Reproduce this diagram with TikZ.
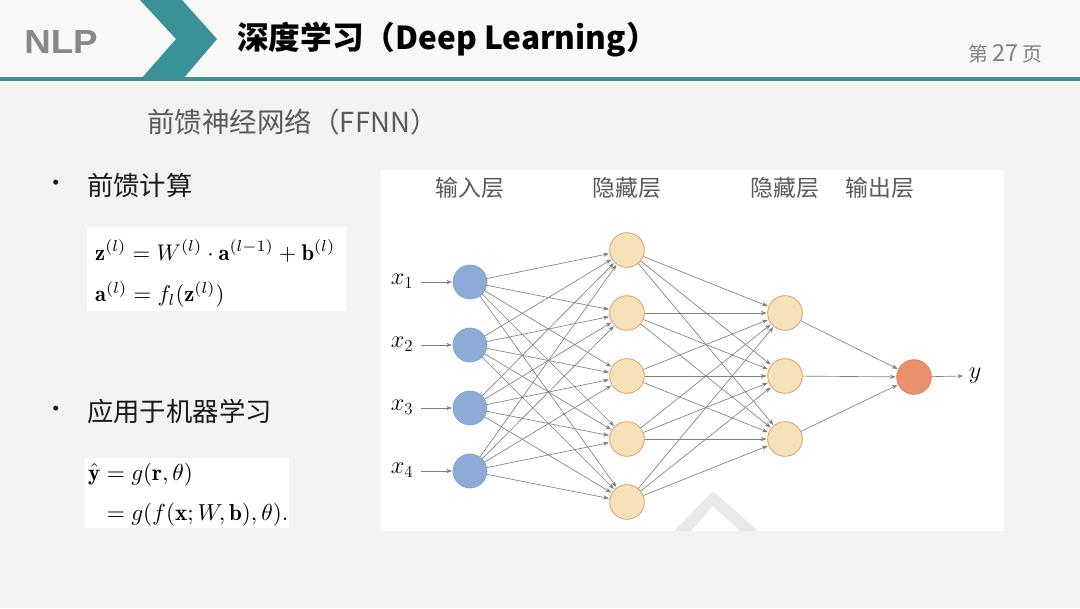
\documentclass[tikz,border=0pt]{standalone}
\usepackage{amsmath}
\usepackage{graphicx}
\usepackage{fontspec}
\usetikzlibrary{arrows.meta}
\newfontfamily\cjk{Noto Sans CJK SC}
\newfontfamily\lsans{Liberation Sans}
\definecolor{teal1}{HTML}{3A9296}
\definecolor{bgtop}{HTML}{F8F8F8}
\definecolor{bgmain}{HTML}{F3F3F3}
\definecolor{inblue}{HTML}{8EAAD6}
\definecolor{inbluedk}{HTML}{7E9CCB}
\definecolor{hidfill}{HTML}{F5E2B8}
\definecolor{hiddraw}{HTML}{E39A72}
\definecolor{outfill}{HTML}{E9916C}
\definecolor{outdraw}{HTML}{D9805C}
\definecolor{edgec}{HTML}{7F7F7F}
\definecolor{txtgray}{HTML}{595959}
\definecolor{wm}{HTML}{E9E9E9}
\tikzset{
  x=0.03cm, y=-0.03cm,
  inp/.style={circle, fill=inblue, draw=inbluedk, line width=0.5pt, minimum size=1.02cm, inner sep=0pt},
  hid/.style={circle, fill=hidfill, draw=hiddraw, line width=0.7pt, minimum size=1.04cm, inner sep=0pt},
  outn/.style={circle, fill=outfill, draw=outdraw, line width=0.6pt, minimum size=1.04cm, inner sep=0pt},
  edge/.style={draw=edgec, line width=0.55pt, -{Stealth[length=5pt,width=3.6pt]}, shorten >=0.5pt},
  layerlbl/.style={font=\cjk\fontsize{19.5}{22}\selectfont, text=txtgray, inner sep=0pt},
  bullettxt/.style={font=\cjk\fontsize{22.5}{26}\selectfont, text=black!90, anchor=west, inner sep=0pt},
  mathlbl/.style={inner sep=0pt},
}
\begin{document}
\begin{tikzpicture}
% background
\fill[bgmain] (0,0) rectangle (1080,608);
\fill[bgtop] (0,0) rectangle (1080,78);
\useasboundingbox (0,0) rectangle (1080,608);
% header line
\fill[teal1] (0,77) rectangle (1080,80.5);
% chevron
\fill[teal1] (140,0) -- (182,0) -- (217,39) -- (183,79) -- (141,79) -- (176,39) -- cycle;
% header texts
\node[font=\lsans\bfseries\fontsize{28.5}{30}\selectfont, text=black!47, xscale=1.1, inner sep=0pt] (nlp) at (61,42) {NLP};
\node[font=\cjk\bfseries\fontsize{27}{30}\selectfont, text=black, anchor=west, inner sep=0pt] (title) at (237,40) {深度学习（Deep Learning）};
\node[font=\cjk\fontsize{17}{20}\selectfont, text=black!50, anchor=east, inner sep=0pt] (page) at (1043,54) {第 {\fontsize{20}{20}\selectfont 27} 页};
% subtitle
\node[font=\cjk\fontsize{23.5}{26}\selectfont, text=txtgray, anchor=west, inner sep=0pt] (sub) at (147,122) {前馈神经网络（FFNN）};
% bullets
\node[font=\cjk\fontsize{20}{24}\selectfont, text=black!90, inner sep=0pt] (b1) at (56,186) {•};
\node[bullettxt] (t1) at (87,185) {前馈计算};
\node[font=\cjk\fontsize{20}{24}\selectfont, text=black!90, inner sep=0pt] (b2) at (56,412) {•};
\node[bullettxt] (t2) at (87,411) {应用于机器学习};
% formula boxes
\fill[white] (87,227) rectangle (346,311);
\node[anchor=west, inner sep=0pt] (f1) at (95,275)
  {\resizebox{7.2cm}{!}{$\begin{array}{@{}l@{}}\mathbf{z}^{(l)} = W^{(l)}\cdot \mathbf{a}^{(l-1)} + \mathbf{b}^{(l)}\\[6pt] \mathbf{a}^{(l)} = f_l(\mathbf{z}^{(l)})\end{array}$}};
\fill[white] (85,458) rectangle (289,528);
\node[anchor=west, inner sep=0pt] (f2) at (88,495)
  {\resizebox{6.0cm}{!}{$\begin{aligned}\hat{\mathbf{y}} &= g(\mathbf{r},\theta)\\[2.5pt] &= g(f(\mathbf{x};W,\mathbf{b}),\theta).\end{aligned}$}};
% network panel
\fill[white] (381,170) rectangle (1004,531);
% watermark
\fill[wm] (674,531) -- (713,491) -- (758,531) -- (740,531) -- (713,506) -- (691,531) -- cycle;
% layer labels
\node[layerlbl] (l1) at (470,188) {输入层};
\node[layerlbl] (l2) at (627,188) {隐藏层};
\node[layerlbl] (l3) at (785,188) {隐藏层};
\node[layerlbl] (l4) at (880,188) {输出层};
% nodes
\foreach \i/\yy in {1/282,2/345,3/408,4/471} {
  \node[inp] (i\i) at (470,\yy) {};
  \node[mathlbl, font=\fontsize{20}{20}\selectfont] (x\i) at (402,\yy-1) {$x_{\i}$};
  \coordinate (xs\i) at (421,\yy);
  \draw[edge] (xs\i) -- (i\i);
}
\foreach \j/\yy in {1/250,2/313,3/376,4/439,5/502} {
  \node[hid] (h\j) at (627,\yy) {};
}
\foreach \k/\yy in {1/313,2/376,3/439} {
  \node[hid] (g\k) at (785,\yy) {};
}
\node[outn] (o) at (914,377) {};
\node[mathlbl, font=\fontsize{20}{20}\selectfont] (ylab) at (975,376) {$y$};
% edges
\foreach \a in {1,...,4} { \foreach \b in {1,...,5} { \draw[edge] (i\a) -- (h\b); } }
\foreach \b in {1,...,5} { \foreach \c in {1,...,3} { \draw[edge] (h\b) -- (g\c); } }
\foreach \c in {1,...,3} { \draw[edge] (g\c) -- (o); }
\draw[edge] (o) -- ([xshift=-4pt]ylab.west);
\end{tikzpicture}
\end{document}
